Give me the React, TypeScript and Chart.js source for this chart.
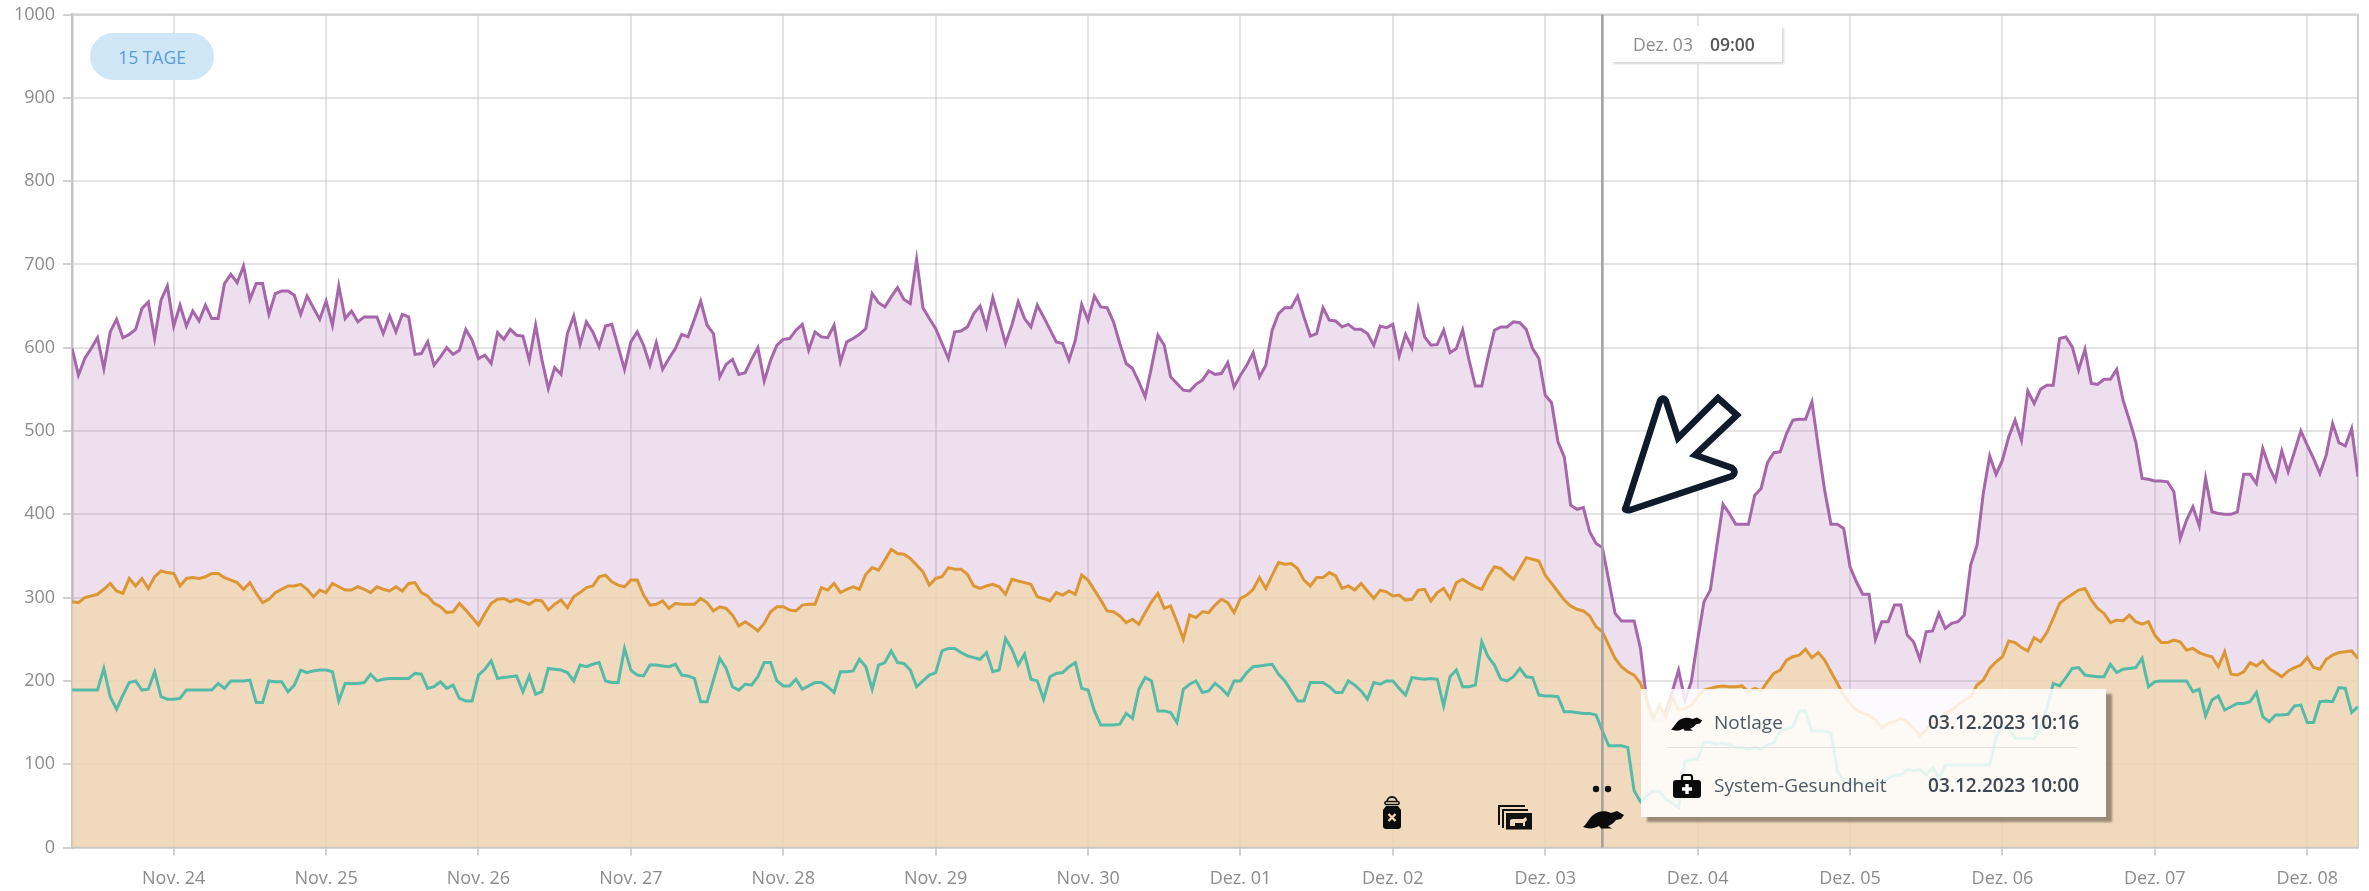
import React, { useEffect, useRef } from "react";
import { Chart, registerables } from "chart.js";

Chart.register(...registerables);

const FONT = "'Open Sans', sans-serif";

const dayLabels = ["Nov. 24","Nov. 25","Nov. 26","Nov. 27","Nov. 28","Nov. 29","Nov. 30","Dez. 01","Dez. 02","Dez. 03","Dez. 04","Dez. 05","Dez. 06","Dez. 07","Dez. 08"];
const firstMidnightHour = 16;
const cursorHour = 241;

const purple = [
599,567,587,599,612,575,619,634,612,616,622,647,655,611,657,674,626,651,626,644,632,651,635,635,677,688,678,698,658,677,677,640,665,668,668,663,640,662,648,634,656,627,674,635,644,631,637,637,637,617,638,619,640,637,592,593,607,579,589,600,
592,597,622,609,587,591,581,618,610,622,615,614,585,627,585,551,576,568,617,638,604,631,619,601,626,628,601,574,607,619,603,579,606,574,587,599,616,613,634,656,627,617,565,580,586,568,570,586,600,560,585,603,610,611,621,628,597,619,613,612,
627,583,607,611,616,623,665,654,649,661,672,658,653,706,648,635,623,605,587,619,620,625,641,650,625,660,633,605,627,655,635,625,651,637,622,607,605,585,609,652,633,662,649,648,631,605,581,575,559,541,577,615,603,565,557,549,548,556,561,572,
568,569,582,553,567,579,594,565,579,621,641,648,648,662,637,614,617,648,633,632,625,628,622,622,617,603,626,624,628,590,616,600,647,613,603,604,621,594,599,621,585,554,554,589,621,625,625,631,630,622,599,587,543,534,487,469,411,406,408,379,
365,360,321,281,272,272,272,239,175,155,152,163,187,213,177,199,249,295,309,361,412,401,388,388,388,423,431,462,474,475,497,513,514,514,535,481,429,388,388,383,337,319,304,304,250,271,271,291,291,255,247,226,259,260,281,263,269,271,279,339,
363,426,470,448,465,493,513,489,548,533,550,555,555,611,613,601,573,598,557,556,562,562,574,537,513,487,443,442,440,440,439,427,371,393,409,386,443,403,401,400,400,403,448,448,437,479,457,441,476,451,475,500,483,467,449,471,509,486,482,503,
445];

const orange = [
295,294,300,302,304,310,317,308,305,323,314,323,311,325,332,330,329,314,323,324,323,325,329,329,324,321,318,310,318,305,294,298,306,310,314,314,316,310,301,309,306,317,313,309,309,313,310,306,313,310,308,313,308,317,318,306,302,293,289,282,
283,293,285,276,267,281,293,298,299,295,298,295,292,297,296,285,292,297,288,301,306,312,314,325,327,319,315,313,321,321,303,291,292,296,287,293,292,292,292,299,294,284,289,287,279,266,271,266,260,269,283,289,289,285,284,291,292,292,312,309,
317,306,310,313,310,328,336,333,345,358,353,352,347,339,331,315,323,325,336,334,334,328,314,311,314,316,313,304,322,320,318,316,301,299,296,306,303,308,304,327,321,309,297,284,283,278,270,274,268,282,295,305,287,290,271,250,279,276,283,282,
291,298,294,282,299,303,310,324,311,327,342,340,341,335,321,314,324,324,330,326,311,314,309,317,308,299,309,307,302,303,297,298,309,310,296,306,311,299,318,322,317,313,310,325,337,335,328,322,335,348,346,344,327,317,307,297,290,286,284,278,
265,259,243,227,217,211,207,197,177,155,171,157,181,165,167,171,181,189,191,193,194,193,193,194,187,191,188,199,209,213,225,229,231,238,228,234,225,211,197,183,173,165,161,159,153,144,149,151,155,151,143,134,141,151,149,161,165,171,177,181,
195,201,215,223,229,248,246,240,236,252,247,258,275,293,299,304,309,311,297,287,281,270,273,272,279,271,268,271,255,246,246,249,247,237,239,234,231,229,217,235,208,207,211,222,218,224,215,210,205,212,216,219,228,216,214,226,231,234,235,236,
227];

const teal = [
189,189,189,189,189,215,181,166,183,198,200,189,190,211,181,178,178,179,189,189,189,189,189,197,191,200,200,200,201,174,174,200,199,199,187,195,213,210,212,213,213,211,176,197,197,197,198,208,200,202,203,203,203,203,209,208,191,193,199,191,
195,179,176,176,207,214,224,203,204,205,206,187,206,184,187,215,214,213,210,200,219,217,220,222,200,198,198,239,213,207,206,219,219,218,217,220,207,206,203,175,175,201,227,215,193,189,196,195,205,222,222,200,194,194,202,190,194,198,198,193,
186,211,211,212,226,217,190,219,222,236,222,221,213,193,200,207,210,236,239,239,234,230,228,226,234,211,213,251,238,219,232,202,200,178,205,209,210,217,222,191,189,164,147,147,147,148,161,155,190,204,200,164,164,162,150,190,196,200,186,188,
197,191,183,200,200,210,217,218,219,220,208,200,188,176,176,198,198,198,193,186,186,200,195,188,178,198,196,200,200,191,183,204,203,202,203,202,170,205,213,193,193,195,247,229,219,202,200,205,215,205,204,183,182,182,181,163,163,162,161,161,
159,140,122,122,122,120,68,55,62,68,67,58,53,48,103,106,106,126,126,124,125,123,120,120,118,120,118,123,126,140,142,145,164,164,140,140,140,137,92,79,77,77,77,77,77,79,83,87,87,94,92,94,87,96,83,99,99,99,99,99,
99,99,99,133,144,145,131,131,131,131,144,167,197,194,204,215,216,207,206,205,205,220,210,214,215,216,227,193,199,200,200,200,200,200,187,190,158,177,182,165,169,173,173,175,186,157,151,159,159,160,170,171,150,150,175,176,175,192,191,162,
169];

const toPoints = (arr: number[]) => arr.map((y, x) => ({ x, y }));

const framePlugin = {
  id: "frame",
  beforeDatasetsDraw(chart: any) {
    const { ctx, chartArea: a } = chart;
    ctx.save();
    ctx.strokeStyle = "#cfcfcf";
    ctx.lineWidth = 2;
    ctx.beginPath();
    ctx.moveTo(a.left, a.top);
    ctx.lineTo(a.right, a.top);
    ctx.lineTo(a.right, a.bottom);
    ctx.stroke();
    ctx.restore();
  },
  afterDatasetsDraw(chart: any) {
    const { ctx, chartArea: a, scales } = chart;
    const x = scales.x.getPixelForValue(cursorHour);
    ctx.save();
    ctx.strokeStyle = "#a0a0a0";
    ctx.lineWidth = 2.5;
    ctx.beginPath();
    ctx.moveTo(x, a.top);
    ctx.lineTo(x, a.bottom);
    ctx.stroke();
    ctx.restore();
  },
};

function CanIcon({ style }: { style: React.CSSProperties }) {
  return (
    <svg width="20" height="34" viewBox="0 0 20 34" style={{ position: "absolute", ...style }}>
      <path d="M5 7 a5 5 0 0 1 10 0" stroke="#111" strokeWidth="1.8" fill="none" />
      <rect x="3" y="6.5" width="14" height="3" rx="1.2" fill="none" stroke="#111" strokeWidth="1.6" />
      <path d="M4 11 h12 l3 4 v16 a3 3 0 0 1 -3 3 h-12 a3 3 0 0 1 -3 -3 v-16 z" fill="#0c0c0c" />
      <path d="M6.5 19 l7 7 M13.5 19 l-7 7" stroke="#f0d9bb" strokeWidth="2.4" />
    </svg>
  );
}

function FrameIcon({ style }: { style: React.CSSProperties }) {
  return (
    <svg width="35" height="25" viewBox="0 0 35 25" style={{ position: "absolute", ...style }}>
      <path d="M1 20 V1 H27" stroke="#111" strokeWidth="2" fill="none" />
      <path d="M5 23 V5 H30" stroke="#111" strokeWidth="2" fill="none" />
      <rect x="8" y="8" width="26" height="16.5" fill="#111" />
      <path d="M12 21 v-5 q0 -2 3 -2 h10 l3 -2 l1 3 l-2 2 v4 h-2 v-3 h-8 v3 z" fill="#f0d9bb" />
    </svg>
  );
}

function RatIcon({ style, w = 42, h = 20 }: { style: React.CSSProperties; w?: number; h?: number }) {
  return (
    <svg width={w} height={h} viewBox="0 0 42 20" style={{ position: "absolute", ...style }}>
      <path d="M0 18 C3 16 5 11 9 7 C14 2 22 1 28 4 L34 2 L41 6 L38 10 L33 11 C31 14 28 16 25 17 L29 19.5 L18 19.5 L16 17 C11 20 5 20 0 18 Z" fill="#0b0b0b" />
    </svg>
  );
}

function KitIcon({ style }: { style: React.CSSProperties }) {
  return (
    <svg width="28" height="24" viewBox="0 0 28 24" style={{ position: "absolute", ...style }}>
      <path d="M9 7 V3 a2 2 0 0 1 2 -2 h6 a2 2 0 0 1 2 2 V7" stroke="#0b0b0b" strokeWidth="2.2" fill="none" />
      <path d="M3 6 h22 a3 3 0 0 1 3 3 v12 a3 3 0 0 1 -3 3 h-22 a3 3 0 0 1 -3 -3 v-12 a3 3 0 0 1 3 -3 z" fill="#0b0b0b" />
      <path d="M14 10 v10 M9 15 h10" stroke="#fff" strokeWidth="3.4" />
    </svg>
  );
}

export default function App() {
  const ref = useRef<HTMLCanvasElement | null>(null);

  useEffect(() => {
    document.body.style.margin = "0";
    const chart = new Chart(ref.current as HTMLCanvasElement, {
      type: "line",
      data: {
        datasets: [
          { label: "teal", data: toPoints(teal), borderColor: "#54bba9", borderWidth: 3, fill: false, order: 1 },
          { label: "orange", data: toPoints(orange), borderColor: "#dc9634", borderWidth: 3, fill: "origin", backgroundColor: "rgba(240,216,180,0.85)", order: 2 },
          { label: "purple", data: toPoints(purple), borderColor: "#a666aa", borderWidth: 3, fill: "origin", backgroundColor: "rgba(164,94,168,0.2)", order: 3 },
        ],
      },
      options: {
        animation: false,
        responsive: false,
        events: [],
        parsing: false,
        layout: { padding: { left: 0, right: 11, top: 14.5, bottom: 0 } },
        elements: { point: { radius: 0 }, line: { tension: 0 } },
        plugins: { legend: { display: false }, tooltip: { enabled: false } },
        scales: {
          x: {
            type: "linear",
            min: 0,
            max: teal.length - 1,
            afterFit(scale: any) { scale.height = 43.5; },
            afterBuildTicks(scale: any) {
              scale.ticks = dayLabels.map((_, k) => ({ value: firstMidnightHour + 24 * k }));
            },
            grid: { color: "rgba(190,190,190,0.42)", lineWidth: 2, tickLength: 8, tickColor: "#d0d0d0", tickWidth: 2 },
            border: { color: "#c8c8c8", width: 2.5 },
            ticks: {
              autoSkip: false,
              maxRotation: 0,
              padding: 13,
              color: "#8c8c8c",
              font: { family: FONT, size: 18 },
              callback(value: any) {
                return dayLabels[(Number(value) - firstMidnightHour) / 24];
              },
            },
          },
          y: {
            min: 0,
            max: 1000,
            afterFit(scale: any) { scale.width = 72.1; scale.paddingTop = 0; scale.paddingBottom = 0; },
            grid: { color: "rgba(190,190,190,0.42)", lineWidth: 2, tickLength: 9, tickColor: "#d0d0d0", tickWidth: 2 },
            border: { color: "#c4c4c4", width: 2.5 },
            ticks: {
              stepSize: 100,
              padding: 8,
              color: "#8c8c8c",
              font: { family: FONT, size: 18 },
              callback(value: any) { return String(value); },
            },
          },
        },
      },
      plugins: [framePlugin],
    } as any);
    return () => chart.destroy();
  }, []);

  return (
    <div style={{ position: "absolute", left: 0, top: 0, width: 2369, height: 891, fontFamily: FONT, overflow: "hidden", background: "#fff" }}>
      <canvas ref={ref} width={2369} height={891} style={{ display: "block", width: 2369, height: 891 }} />

      <div style={{ position: "absolute", left: 90, top: 33, width: 124, height: 47, borderRadius: 24, background: "#cfe7f6", color: "#5a9ed6", fontSize: 17.5, display: "flex", alignItems: "center", justifyContent: "center" }}>15 TAGE</div>

      <div style={{ position: "absolute", left: 1611, top: 26, width: 171, height: 36, background: "#fff", boxShadow: "2px 2px 2px #d8d8d8", fontSize: 17.5, display: "flex", alignItems: "center", paddingLeft: 22, boxSizing: "border-box", whiteSpace: "nowrap" }}>
        <span style={{ color: "#8c8c8c" }}>Dez. 03</span>
        <span style={{ color: "#555", fontWeight: 600, marginLeft: 17 }}>09:00</span>
      </div>

      <svg width="2369" height="891" style={{ position: "absolute", left: 0, top: 0, pointerEvents: "none" }}>
        <path d="M1626 507 L1660 401 Q1663 396 1666 401 L1678 438 L1718 398 L1737 415 L1695 455 L1732 468 Q1737 472 1732 476 L1630 510 Q1623 511 1626 507 Z" fill="#fff" stroke="#0f1a2b" strokeWidth="6.5" strokeLinejoin="miter" />
        <circle cx="1596" cy="789" r="3.2" fill="#111" />
        <circle cx="1608" cy="789" r="3.2" fill="#111" />
      </svg>

      <CanIcon style={{ left: 1382, top: 795 }} />
      <FrameIcon style={{ left: 1498, top: 805 }} />
      <RatIcon style={{ left: 1583, top: 809 }} />

      <div style={{ position: "absolute", left: 1641, top: 689, width: 465, height: 128, background: "rgba(255,255,255,0.84)", boxShadow: "6px 5px 2px rgba(70,60,50,0.5)", color: "#4d5964" }}>
        <RatIcon w={32} h={17} style={{ left: 30, top: 26 }} />
        <div style={{ position: "absolute", left: 73, top: 19, fontSize: 19, lineHeight: "28px" }}>Notlage</div>
        <div style={{ position: "absolute", right: 27, top: 19, fontSize: 19, lineHeight: "28px", fontWeight: 600, color: "#3d4852" }}>03.12.2023 10:16</div>
        <div style={{ position: "absolute", left: 26, right: 28, top: 58, height: 1, background: "#e4e2de" }} />
        <KitIcon style={{ left: 32, top: 85 }} />
        <div style={{ position: "absolute", left: 73, top: 82, fontSize: 19, lineHeight: "28px" }}>System-Gesundheit</div>
        <div style={{ position: "absolute", right: 27, top: 82, fontSize: 19, lineHeight: "28px", fontWeight: 600, color: "#3d4852" }}>03.12.2023 10:00</div>
      </div>
    </div>
  );
}
